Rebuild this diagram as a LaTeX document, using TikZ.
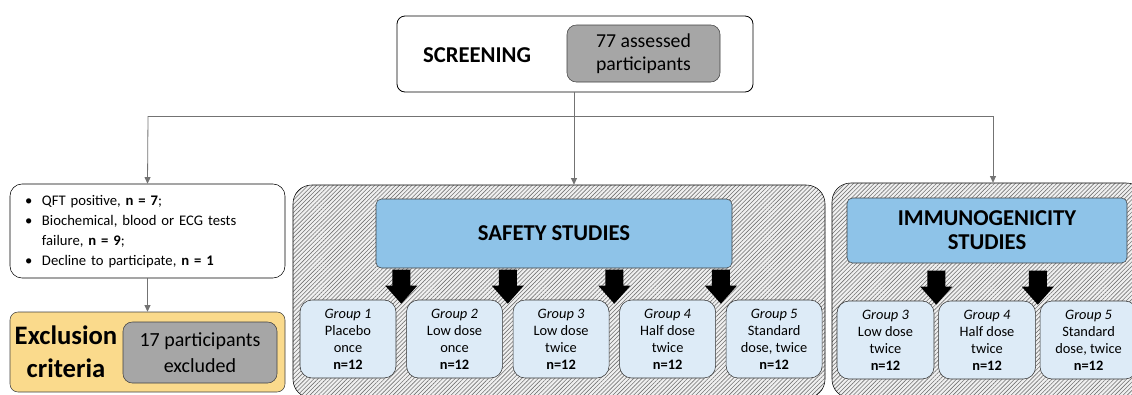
\documentclass[tikz,border=0pt]{standalone}
\usepackage{fontspec}
\setmainfont{Carlito}
\usetikzlibrary{positioning, arrows.meta, calc, patterns.meta}
\definecolor{hdrblue}{RGB}{142,195,232}
\definecolor{grpblue}{RGB}{221,235,247}
\definecolor{boxgray}{RGB}{166,166,166}
\definecolor{exclyellow}{RGB}{250,218,140}
\newcommand{\pxu}{0.75pt}
\tikzset{
>={Triangle[length=5pt,width=4.5pt]}, % small solid heads on the thin connectors
flow/.style={draw=black!55, line width=0.6pt}, % thin gray connector lines
screenbox/.style={draw, rounded corners=6pt, fill=white, line width=0.6pt},
graybox/.style={draw=black!75, rounded corners=7pt, fill=boxgray, align=center, inner sep=0pt},
listbox/.style={draw, rounded corners=9pt, fill=white, align=left},
exclbox/.style={draw=black!75, rounded corners=6pt, fill=exclyellow},
hatchbox/.style={draw, rounded corners=14pt, preaction={fill=black!6},
  pattern={Lines[angle=45,distance=2.2pt,line width=0.45pt]}, pattern color=black!55},
headbox/.style={draw=black!75, rounded corners=4pt, fill=hdrblue, align=center,
  font=\bfseries\fontsize{17}{18}\selectfont},
groupbox/.style={draw=black!80, rounded corners=9pt, fill=grpblue, align=center, inner sep=0pt,
  font=\fontsize{10.8}{12.75}\selectfont, minimum width=96*\pxu, minimum height=78*\pxu},
blockarrow/.pic={\fill[black] (0,0) -- (16,-18) -- (9,-18) -- (9,-34) -- (-9,-34) -- (-9,-18) -- (-16,-18) -- cycle;},
}

\begin{document}
\begin{tikzpicture}[x=0.75pt, y=-0.75pt]
\useasboundingbox (0,0) rectangle (1132,394);

% screening
\node[screenbox, minimum width=356*\pxu, minimum height=76*\pxu] (scr) at (575,54) {};
\node[font=\bfseries\fontsize{17}{20}\selectfont] (scrlbl) at (477,55) {SCREENING};
\node[graybox, minimum width=153*\pxu, minimum height=57*\pxu, font=\fontsize{14.8}{17}\selectfont] (assessed) at (643.5,53.5) {77 assessed\\participants};

% split
\coordinate (jm) at (574,116);
\coordinate (jl) at (148,116);
\coordinate (jr) at (993,116);

% exclusion
\node[listbox, text width=245*\pxu, inner xsep=15*\pxu, minimum height=94*\pxu, font=\fontsize{11}{15}\selectfont] (exlist) at (147.5,231)
  {\begin{tabular}{@{}p{12.75pt}@{}l@{}}
   \textbullet & QFT positive, \textbf{n = 7};\\
   \textbullet & Biochemical, blood or ECG tests\\
               & failure, \textbf{n = 9};\\
   \textbullet & Decline to participate, \textbf{n = 1}
   \end{tabular}};
\node[exclbox, minimum width=275*\pxu, minimum height=80*\pxu] (excl) at (147.5,352) {};
\node[align=center, font=\bfseries\fontsize{20}{25}\selectfont] (excllbl) at (66,352) {Exclusion\\criteria};
\node[graybox, minimum width=154*\pxu, minimum height=61*\pxu, font=\fontsize{15}{19}\selectfont] (excluded) at (200,352.5) {17 participants\\excluded};

% study blocks
\node[hatchbox, minimum width=532*\pxu, minimum height=213*\pxu] (safety) at (559,291.5) {};
\node[hatchbox, minimum width=313*\pxu, minimum height=215*\pxu] (immuno) at (988.5,290.5) {};
\node[headbox, minimum width=356*\pxu, minimum height=69*\pxu] (safhdr) at (554,233.5) {SAFETY STUDIES};
\node[headbox, minimum width=280*\pxu, minimum height=65*\pxu] (immhdr) at (987,230.5) {IMMUNOGENICITY\\STUDIES};

\node[groupbox] (s1) at (348,339) {\textit{Group 1}\\Placebo\\once\\\textbf{n=12}};
\node[groupbox, right=7.5pt of s1] (s2) {\textit{Group 2}\\Low dose\\once\\\textbf{n=12}};
\node[groupbox, right=7.5pt of s2] (s3) {\textit{Group 3}\\Low dose\\twice\\\textbf{n=12}};
\node[groupbox, right=7.5pt of s3] (s4) {\textit{Group 4}\\Half dose\\twice\\\textbf{n=12}};
\node[groupbox, right=7.5pt of s4] (s5) {\textit{Group 5}\\Standard\\dose, twice\\\textbf{n=12}};

\node[groupbox, minimum width=97*\pxu] (i3) at (885.5,340) {\textit{Group 3}\\Low dose\\twice\\\textbf{n=12}};
\node[groupbox, minimum width=97*\pxu, right=3pt of i3] (i4) {\textit{Group 4}\\Half dose\\twice\\\textbf{n=12}};
\node[groupbox, minimum width=97*\pxu, right=3pt of i4] (i5) {\textit{Group 5}\\Standard\\dose, twice\\\textbf{n=12}};

\foreach \a/\b in {s1/s2, s2/s3, s3/s4, s4/s5, i3/i4, i4/i5}
  \pic at ($(\a.north east)!.5!(\b.north west)+(0,4)$) {blockarrow};

% connectors
\draw[flow] (jm |- scr.south) -- (jm);
\draw[flow] (jl) -- (jr);
\draw[flow, ->] (jl) -- (exlist.north);
\draw[flow, ->] (jm) -- (jm |- safety.north);
\draw[flow, ->] (jr) -- (jr |- immuno.north);
\draw[flow, ->] (exlist) -- (excl);
\end{tikzpicture}
\end{document}
